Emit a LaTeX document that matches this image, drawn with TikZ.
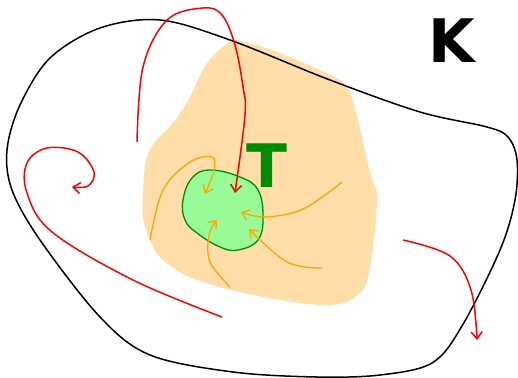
\documentclass[tikz,border=0pt]{standalone}
\usepackage{fontspec}
\setmainfont{DejaVu Sans}
\usetikzlibrary{arrows.meta}
\definecolor{peach}{RGB}{255,222,170}
\definecolor{palegr}{RGB}{152,251,152}
\definecolor{darkgr}{RGB}{0,140,0}
\definecolor{orng}{RGB}{255,165,0}
\tikzset{
  redarrow/.style={draw=red, line width=1.5pt, -{Straight Barb[length=7pt,width=11pt,line width=1.5pt]}},
  orarrow/.style={draw=orng, line width=1.3pt, -{Straight Barb[length=7pt,width=11pt,line width=1.3pt]}},
  bigletter/.style={font=\bfseries\fontsize{60}{60}\selectfont, inner sep=0pt},
}
\begin{document}
\begin{tikzpicture}[x=1pt,y=-1pt]
\useasboundingbox (0,0) rectangle (518,377);
% orange region
\fill[peach] plot[smooth cycle, tension=0.6] coordinates {
 (230,42) (207,63) (190,97) (173,123) (155,142) (146,160) (143,193) (143,217)
 (150,240) (163,260) (197,280) (263,297) (330,305) (360,293) (370,267) (377,200)
 (370,173) (357,117) (347,87) (330,75) (280,53) (245,42)};
% region K outline
\draw[black, line width=1.5pt] plot[smooth cycle, tension=0.55] coordinates {
 (160,20) (230,40) (330,80) (420,112) (487,127) (508,137) (517,160) (515,200)
 (500,250) (462,326) (432,363) (380,375) (317,377) (233,372) (150,355) (100,317)
 (40,240) (12,190) (7,150) (20,105) (50,58) (100,28)};
% green region T
\draw[darkgr, fill=palegr, line width=1.3pt] plot[smooth cycle, tension=0.7] coordinates {
 (183,200) (192,178) (210,170) (240,177) (258,190) (263,217) (258,240)
 (238,250) (220,247) (197,233) (185,220)};
\node[bigletter, text=black, anchor=south west] (K) at (428,63) {K};
\node[bigletter, text=darkgr, anchor=south west] (T) at (246,188) {T};
% red arrows
\draw[redarrow] plot[smooth, tension=0.6] coordinates {
 (137,142) (143,67) (167,20) (203,8) (222,15) (235,45) (243,87) (245,115) (235,193)};
\draw[redarrow] plot[smooth, tension=0.6] coordinates {
 (222,317) (133,280) (52,232) (27,193) (27,163) (47,148) (78,152) (94,172) (88,186) (72,187)};
\draw[redarrow] plot[smooth, tension=0.6] coordinates {
 (403,240) (450,256) (471,290) (477,340)};
% orange arrows
\draw[orarrow] plot[smooth, tension=0.6] coordinates {
 (150,240) (163,190) (190,162) (212,157) (214,170) (205,194)};
\draw[orarrow] plot[smooth, tension=0.6] coordinates {
 (342,182) (303,209) (265,217) (241,212)};
\draw[orarrow] plot[smooth, tension=0.6] coordinates {
 (322,268) (287,262) (249,229)};
\draw[orarrow] plot[smooth, tension=0.6] coordinates {
 (230,287) (210,262) (209,235) (217,220)};
\end{tikzpicture}
\end{document}
